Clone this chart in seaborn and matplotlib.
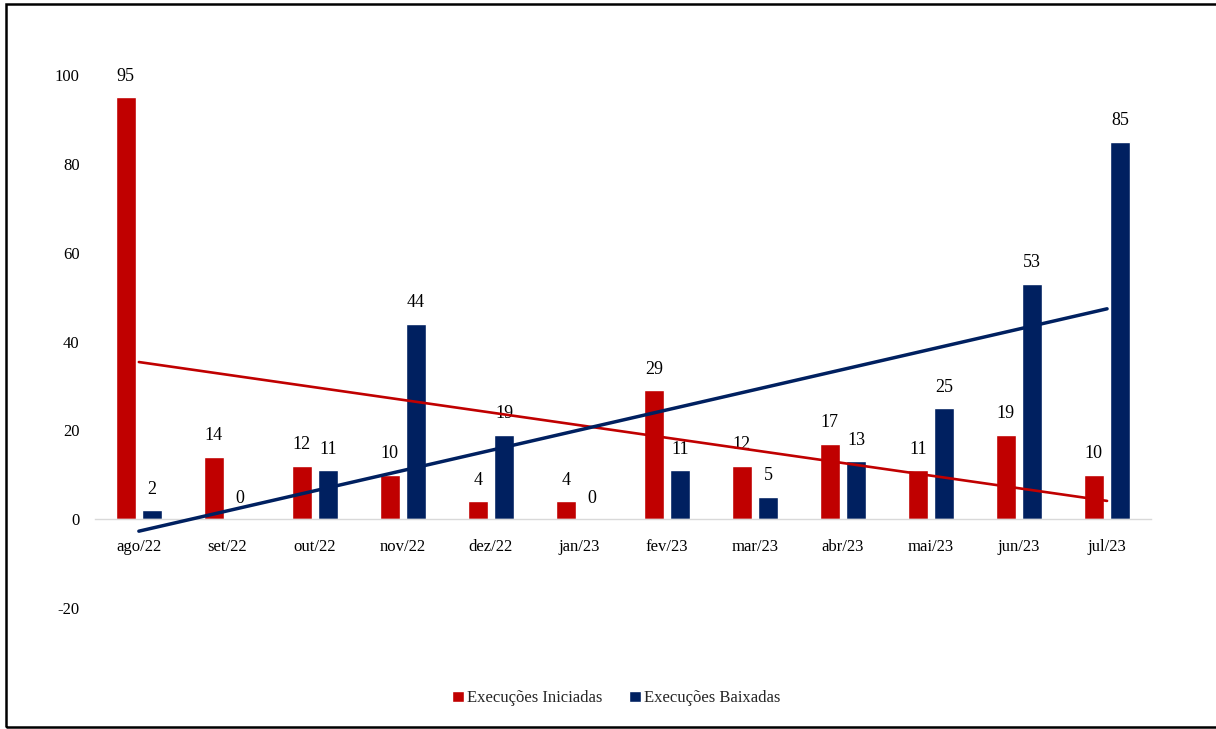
import matplotlib
matplotlib.use("Agg")
import matplotlib.pyplot as plt
from matplotlib.patches import Rectangle
import seaborn as sns
import pandas as pd
import numpy as np

sns.set_theme(style="white")
plt.rcParams["font.family"] = ["Liberation Serif", "DejaVu Serif"]
plt.rcParams["axes.unicode_minus"] = False

months = ["ago/22", "set/22", "out/22", "nov/22", "dez/22", "jan/23",
          "fev/23", "mar/23", "abr/23", "mai/23", "jun/23", "jul/23"]
iniciadas = [95, 14, 12, 10, 4, 4, 29, 12, 17, 11, 19, 10]
baixadas = [2, 0, 11, 44, 19, 0, 11, 5, 13, 25, 53, 85]

series_names = ["Execuções Iniciadas", "Execuções Baixadas"]
colors = ["#C00000", "#002060"]

df = pd.DataFrame({
    "mes": months * 2,
    "valor": iniciadas + baixadas,
    "serie": [series_names[0]] * len(months) + [series_names[1]] * len(months),
})


def plot_execucoes():

    fig = plt.figure(figsize=(12.16, 7.29), dpi=100)
    ax = fig.add_axes([0.078, 0.166, 0.8686, 0.731])

    sns.barplot(
        data=df,
        x="mes",
        y="valor",
        hue="serie",
        palette=colors,
        width=0.6,
        gap=0.24,
        saturation=1,
        ax=ax
    )

    for container in ax.containers:
        ax.bar_label(container, fmt="%d", padding=9, fontsize=13, color="black")

    # linear trend lines for each series
    pos = np.arange(len(months))
    sns.regplot(x=pos, y=np.array(iniciadas), scatter=False, ci=None,
                color=colors[0], line_kws={"linewidth": 1.9, "zorder": 5}, ax=ax)
    sns.regplot(x=pos, y=np.array(baixadas), scatter=False, ci=None,
                color=colors[1], line_kws={"linewidth": 2.5, "zorder": 5}, ax=ax)

    ax.set_xlim(-0.5, len(months) - 0.5)
    ax.set_ylim(-20, 100)
    ax.set_yticks(range(-20, 101, 20))
    ax.set_xticks(pos)
    ax.set_xticklabels(months)
    ax.set_xlabel("")
    ax.set_ylabel("")

    for side in ["left", "top", "right"]:
        ax.spines[side].set_visible(False)
    ax.spines["bottom"].set_position(("data", 0))
    ax.spines["bottom"].set_color("#D9D9D9")
    ax.spines["bottom"].set_linewidth(1)

    ax.tick_params(axis="y", length=0, pad=11, labelsize=12, labelcolor="black")
    ax.tick_params(axis="x", length=0, pad=14, labelsize=12, labelcolor="black")
    ax.grid(False)

    handles, labels = ax.get_legend_handles_labels()
    ax.get_legend().remove()
    fig.legend(
        handles[:2], labels[:2],
        loc="center",
        bbox_to_anchor=(0.507, 0.042),
        ncol=2,
        frameon=False,
        fontsize=12,
        handlelength=0.7,
        handleheight=0.7,
        handletextpad=0.2,
        columnspacing=1.6
    )

    border = Rectangle((6 / 1216, 1 - 727 / 729), 1.1, (727 - 4) / 729,
                       transform=fig.transFigure, fill=False,
                       edgecolor="black", linewidth=1.8, clip_on=False)
    fig.patches.append(border)

    fig.savefig("out.png", dpi=100)
    plt.close(fig)


plot_execucoes()
